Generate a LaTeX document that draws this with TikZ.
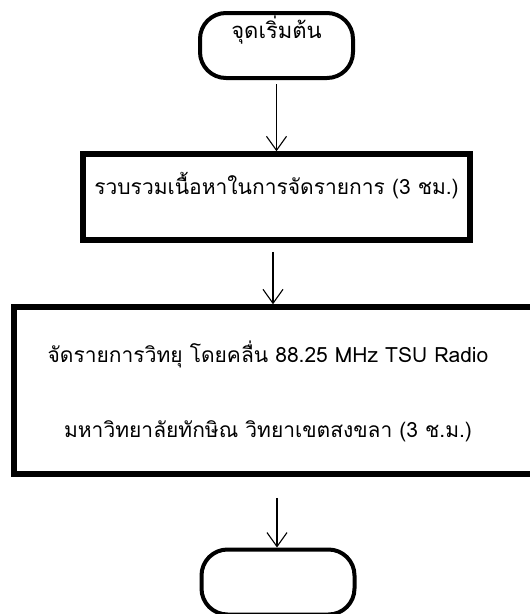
\documentclass[tikz,border=0pt]{standalone}
\usepackage{fontspec}
\newfontfamily\thaifont[Script=Thai]{Loma}
\usetikzlibrary{arrows.meta,positioning}

\begin{document}
\begin{tikzpicture}[x=1pt,y=-1pt,
    font=\thaifont\fontsize{21}{25}\selectfont,
    terminal/.style={draw,line width=4pt,rounded corners=26pt,
      minimum width=153pt,minimum height=65pt},
    process/.style={draw,line width=5.5pt},
    flow/.style={line width=1.1pt,-{Straight Barb[length=14pt,width=20pt]}}]
      %page is the size of the reference, the big box runs off its right side
    \useasboundingbox (0,0) rectangle (530,614);
    \clip (0,0) rectangle (530,614);
      %the chart, top to bottom
    \node[terminal,font=\thaifont\fontsize{22}{26}\selectfont,text height=8pt,text depth=22pt]
      (start) at (276.5,45.5) {จุดเริ่มต้น};
    \node[process,minimum width=387pt,minimum height=86pt,text height=12pt,text depth=18pt]
      (collect) at (276.5,197) {รวบรวมเนื้อหาในการจัดรายการ (3 ชม.)};
    \node[process,minimum width=530pt,minimum height=167pt] (radio) at (279,390.5) {};
    \node[align=center] (radiotext) at (268,391)
      {จัดรายการวิทยุ โดยคลื่น 88.25 MHz TSU Radio\\[50pt]
       มหาวิทยาลัยทักษิณ วิทยาเขตสงขลา (3 ช.ม.)};
    \node[terminal] (stop) at (278,582) {};
      %arrows
    \draw[flow,shorten <=4pt] (start.south) -- (collect.north);
    \draw[flow,shorten <=9pt] ([xshift=-3.5pt]collect.south)
      -- ([xshift=-3.5pt]collect.south |- radio.north);
    \draw[flow,shorten <=21pt] ([xshift=-2pt]radio.south) -- ([xshift=-2pt]radio.south |- stop.north);
\end{tikzpicture}
\end{document}
